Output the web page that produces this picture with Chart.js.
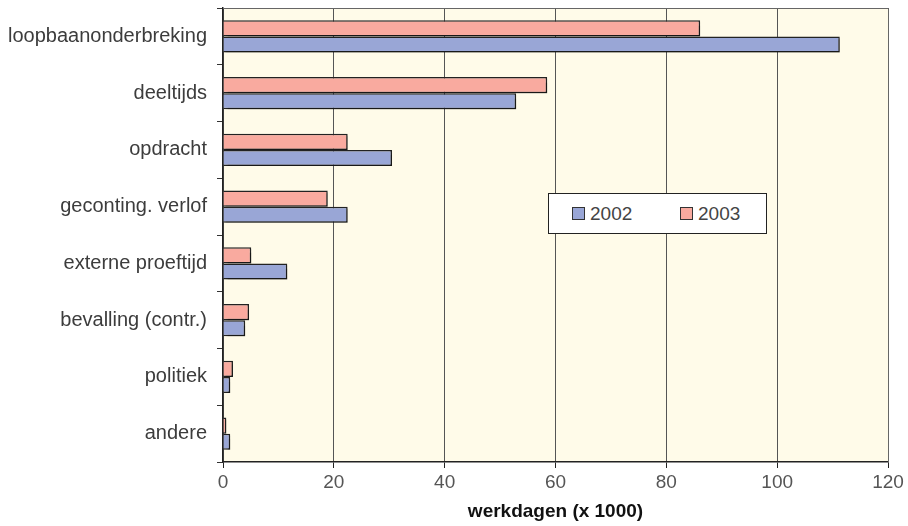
<!DOCTYPE html>
<html>
<head>
<meta charset="utf-8">
<script src="https://cdn.jsdelivr.net/npm/chart.js@4/dist/chart.umd.min.js"></script>
<style>
  html, body { margin: 0; padding: 0; background: #fff; }
  #wrap { position: relative; width: 908px; height: 526px; }
  #legend {
    position: absolute; left: 548px; top: 193px; width: 219px; height: 41px;
    box-sizing: border-box; background: #fff; border: 1px solid #222;
    font: 19px "Liberation Sans", Arial, sans-serif; color: #444;
  }
  #legend .item { position: absolute; top: 9px; line-height: 22px; }
  #legend .sw {
    display: inline-block; width: 11px; height: 11px; border: 1px solid #333;
    margin-right: 5px; vertical-align: 0px;
  }
</style>
</head>
<body>
<div id="wrap">
  <canvas id="chart"></canvas>
  <div id="legend"></div>
</div>
<script>
// werkdagen per reden, in duizenden
const categories = [
  'loopbaanonderbreking', 'deeltijds', 'opdracht', 'geconting. verlof',
  'externe proeftijd', 'bevalling (contr.)', 'politiek', 'andere'
];
const values2002 = [111.3, 52.9, 30.5, 22.5, 11.6, 4.0, 1.3, 1.3];
const values2003 = [86.1, 58.5, 22.5, 18.9, 5.1, 4.7, 1.8, 0.6];
const xTickValues = [0, 20, 40, 60, 80, 100, 120];

const COLOR_2002 = '#99a6d6';
const COLOR_2003 = '#f9aa9f';
const FONT = '"Liberation Sans", Arial, sans-serif';

// soft drop shadow under the bars
const barShadow = {
  id: 'barShadow',
  beforeDatasetsDraw(chart) {
    const ctx = chart.ctx;
    ctx.save();
    ctx.shadowColor = 'rgba(0,0,0,0.28)';
    ctx.shadowOffsetX = 2;
    ctx.shadowOffsetY = 2;
    ctx.shadowBlur = 1;
  },
  afterDatasetsDraw(chart) { chart.ctx.restore(); }
};

// top and right frame of the plot area
const frame = {
  id: 'frame',
  beforeDatasetsDraw(chart) {
    const { ctx, chartArea: a } = chart;
    ctx.save();
    ctx.strokeStyle = '#666';
    ctx.lineWidth = 1;
    ctx.beginPath();
    ctx.moveTo(a.left, a.top + 0.5);
    ctx.lineTo(a.right + 0.5, a.top + 0.5);
    ctx.lineTo(a.right + 0.5, a.bottom);
    ctx.stroke();
    ctx.restore();
  }
};

const plotBg = {
  id: 'plotBg',
  beforeDraw(chart) {
    const { ctx, chartArea: a } = chart;
    ctx.save();
    ctx.fillStyle = '#fffbe9';
    ctx.fillRect(a.left, a.top, a.right - a.left, a.bottom - a.top);
    ctx.restore();
  }
};

const chart = new Chart(document.getElementById('chart'), {
  type: 'bar',
  data: {
    labels: categories,
    datasets: [
      { label: '2003', data: values2003, backgroundColor: COLOR_2003, borderColor: '#222', borderWidth: 1.5 },
      { label: '2002', data: values2002, backgroundColor: COLOR_2002, borderColor: '#222', borderWidth: 1.5 }
    ]
  },
  options: {
    indexAxis: 'y',
    responsive: true,
    maintainAspectRatio: false,
    animation: false,
    categoryPercentage: 0.565,
    barPercentage: 1.0,
    layout: { padding: { top: 8, right: 20, bottom: 0, left: 0 } },
    plugins: {
      legend: { display: false },
      tooltip: { enabled: false }
    },
    scales: {
      x: {
        min: 0, max: 120,
        afterBuildTicks: (s) => { s.ticks = xTickValues.map(v => ({ value: v })); },
        afterFit: (s) => { s.height = 64; },
        ticks: { color: '#555', font: { family: FONT, size: 19 }, padding: 3 },
        grid: { color: '#555', lineWidth: 1, tickLength: 6, tickColor: '#222' },
        border: { color: '#222', width: 1.5 },
        title: {
          display: true, text: 'werkdagen (x 1000)', color: '#111',
          font: { family: FONT, size: 19, weight: 'bold' }, padding: { top: 0, bottom: 3 }
        }
      },
      y: {
        afterFit: (s) => { s.width = 223; s.paddingTop = 0; s.paddingBottom = 0; },
        ticks: { color: '#3c3c3c', font: { family: FONT, size: 20 }, padding: 10 },
        grid: { drawOnChartArea: false, tickLength: 6, tickColor: '#333', offset: true },
        border: { color: '#222', width: 1.5 }
      }
    }
  },
  plugins: [plotBg, frame, barShadow]
});

// legend box: 2002 first, then 2003
const legendEl = document.getElementById('legend');
[['2002', COLOR_2002, 23], ['2003', COLOR_2003, 131]].forEach(([txt, col, left]) => {
  const it = document.createElement('span');
  it.className = 'item';
  it.style.left = left + 'px';
  it.innerHTML = '<span class="sw" style="background:' + col + '"></span>' + txt;
  legendEl.appendChild(it);
});
</script>
</body>
</html>
